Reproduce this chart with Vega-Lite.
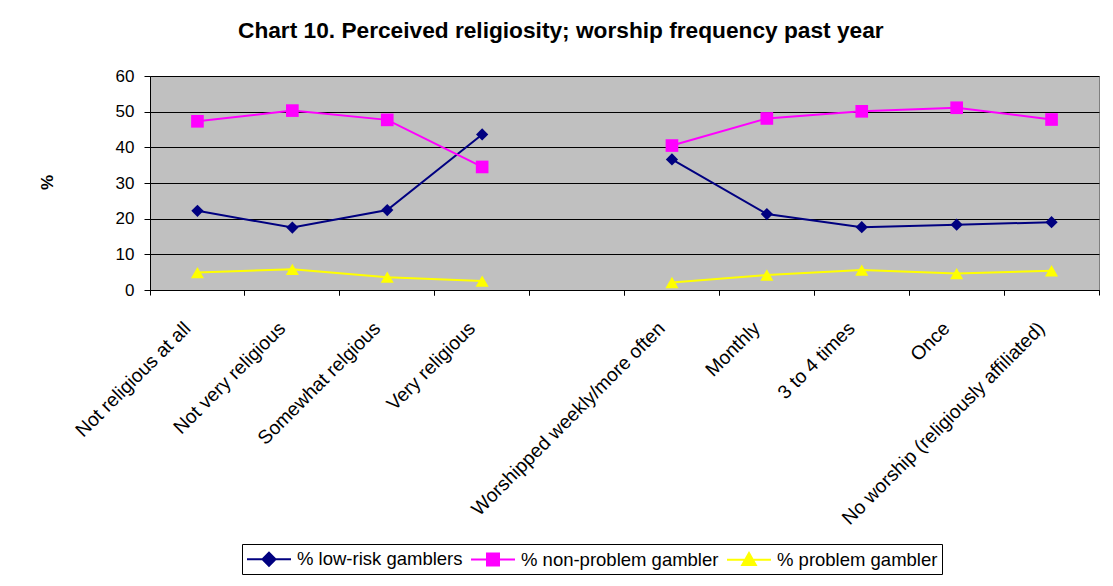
{
  "$schema": "https://vega.github.io/schema/vega-lite/v6.json",
  "width": 949,
  "height": 214,
  "autosize": {"type": "none"},
  "padding": {"left": 150, "top": 76, "right": 14, "bottom": 296},
  "background": "white",
  "title": {
    "text": "Chart 10. Perceived religiosity; worship frequency past year",
    "anchor": "start",
    "frame": "group",
    "dx": 88,
    "offset": 6,
    "baseline": "alphabetic",
    "font": "Liberation Sans",
    "fontSize": 22.7,
    "fontWeight": "bold",
    "color": "black"
  },
  "data": {
    "values": [
      {"cat": "Not religious at all", "series": "% low-risk gamblers", "value": 22.2, "group": "A"},
      {"cat": "Not very religious", "series": "% low-risk gamblers", "value": 17.5, "group": "A"},
      {"cat": "Somewhat relgious", "series": "% low-risk gamblers", "value": 22.4, "group": "A"},
      {"cat": "Very religious", "series": "% low-risk gamblers", "value": 43.6, "group": "A"},
      {"cat": "Worshipped weekly/more often", "series": "% low-risk gamblers", "value": 36.6, "group": "B"},
      {"cat": "Monthly", "series": "% low-risk gamblers", "value": 21.3, "group": "B"},
      {"cat": "3 to 4 times", "series": "% low-risk gamblers", "value": 17.6, "group": "B"},
      {"cat": "Once", "series": "% low-risk gamblers", "value": 18.3, "group": "B"},
      {"cat": "No worship (religiously affiliated)", "series": "% low-risk gamblers", "value": 19.0, "group": "B"},
      {"cat": "Not religious at all", "series": "% non-problem gambler", "value": 47.3, "group": "A"},
      {"cat": "Not very religious", "series": "% non-problem gambler", "value": 50.3, "group": "A"},
      {"cat": "Somewhat relgious", "series": "% non-problem gambler", "value": 47.7, "group": "A"},
      {"cat": "Very religious", "series": "% non-problem gambler", "value": 34.5, "group": "A"},
      {"cat": "Worshipped weekly/more often", "series": "% non-problem gambler", "value": 40.5, "group": "B"},
      {"cat": "Monthly", "series": "% non-problem gambler", "value": 48.1, "group": "B"},
      {"cat": "3 to 4 times", "series": "% non-problem gambler", "value": 50.1, "group": "B"},
      {"cat": "Once", "series": "% non-problem gambler", "value": 51.1, "group": "B"},
      {"cat": "No worship (religiously affiliated)", "series": "% non-problem gambler", "value": 47.8, "group": "B"},
      {"cat": "Not religious at all", "series": "% problem gambler", "value": 4.9, "group": "A"},
      {"cat": "Not very religious", "series": "% problem gambler", "value": 5.8, "group": "A"},
      {"cat": "Somewhat relgious", "series": "% problem gambler", "value": 3.6, "group": "A"},
      {"cat": "Very religious", "series": "% problem gambler", "value": 2.5, "group": "A"},
      {"cat": "Worshipped weekly/more often", "series": "% problem gambler", "value": 2.1, "group": "B"},
      {"cat": "Monthly", "series": "% problem gambler", "value": 4.2, "group": "B"},
      {"cat": "3 to 4 times", "series": "% problem gambler", "value": 5.6, "group": "B"},
      {"cat": "Once", "series": "% problem gambler", "value": 4.6, "group": "B"},
      {"cat": "No worship (religiously affiliated)", "series": "% problem gambler", "value": 5.4, "group": "B"}
    ]
  },
  "encoding": {
    "y": {
      "field": "value",
      "type": "quantitative",
      "scale": {"domain": [0, 60], "nice": false},
      "axis": {
        "title": "%",
        "titleFont": "Liberation Sans",
        "titleFontSize": 17,
        "titleFontWeight": "bold",
        "titleColor": "black",
        "titleAngle": -90,
        "titleX": -103,
        "titleY": 106,
        "titleAlign": "center",
        "titleBaseline": "middle",
        "values": [0, 10, 20, 30, 40, 50, 60],
        "labelFont": "Liberation Sans",
        "labelFontSize": 17,
        "labelColor": "black",
        "labelPadding": 10,
        "tickSize": 6,
        "tickColor": "black",
        "domainColor": "black",
        "grid": true,
        "gridColor": "black",
        "gridWidth": 1
      }
    },
    "color": {
      "field": "series",
      "type": "nominal",
      "scale": {
        "domain": ["% low-risk gamblers", "% non-problem gambler", "% problem gambler"],
        "range": ["#000080", "#FF00FF", "#FFFF00"]
      },
      "legend": {
        "title": null,
        "orient": "none",
        "legendX": 92,
        "legendY": 468,
        "direction": "horizontal",
        "strokeColor": "black",
        "fillColor": "white",
        "padding": 4,
        "symbolSize": 400,
        "symbolOffset": 12,
        "symbolStrokeWidth": 2,
        "labelFont": "Liberation Sans",
        "labelFontSize": 18.5,
        "labelColor": "black",
        "labelOffset": 17,
        "labelLimit": 400,
        "columnPadding": 4,
        "encode": {
          "symbols": {
            "update": {
              "shape": {"signal": "datum.value === '% low-risk gamblers' ? 'M-2.2,0L2.2,0M0,-0.65L0.65,0L0,0.65L-0.65,0Z' : datum.value === '% non-problem gambler' ? 'M-2.2,0L2.2,0M-0.6,-0.6L0.6,-0.6L0.6,0.6L-0.6,0.6Z' : 'M-2.2,0L2.2,0M0,-0.68L0.68,0.52L-0.68,0.52Z'"},
              "fill": {"signal": "scale('color', datum.value)"},
              "stroke": {"signal": "scale('color', datum.value)"},
              "strokeWidth": {"value": 2},
              "opacity": {"value": 1}
            }
          }
        }
      }
    }
  },
  "layer": [
    {
      "mark": {"type": "line", "strokeWidth": 2},
      "encoding": {
        "x": {
          "field": "cat",
          "type": "nominal",
          "sort": null,
          "scale": {
            "type": "band",
            "paddingInner": 0,
            "paddingOuter": 0,
            "domain": ["Not religious at all", "Not very religious", "Somewhat relgious", "Very religious", " ", "Worshipped weekly/more often", "Monthly", "3 to 4 times", "Once", "No worship (religiously affiliated)"]
          },
          "axis": {
            "orient": "bottom",
            "title": null,
            "labelAngle": -45,
            "labelAlign": "right",
            "labelBaseline": "middle",
            "labelPadding": 30,
            "labelOffset": -10,
            "labelOverlap": false,
            "labelLimit": 500,
            "labelFont": "Liberation Sans",
            "labelFontSize": 19.3,
            "labelColor": "black",
            "ticks": true,
            "tickSize": 5,
            "tickOpacity": 0,
            "domain": false,
            "grid": false
          }
        },
        "detail": {"field": "group", "type": "nominal"}
      }
    },
    {
      "transform": [{"filter": "datum.series === '% low-risk gamblers'"}],
      "mark": {"type": "point", "shape": "diamond", "filled": true, "opacity": 1, "size": 150},
      "encoding": {
        "x": {
          "field": "cat",
          "type": "nominal",
          "sort": null,
          "scale": {
            "type": "band",
            "paddingInner": 0,
            "paddingOuter": 0,
            "domain": ["Not religious at all", "Not very religious", "Somewhat relgious", "Very religious", " ", "Worshipped weekly/more often", "Monthly", "3 to 4 times", "Once", "No worship (religiously affiliated)"]
          },
          "axis": {
            "orient": "bottom",
            "title": null,
            "labels": false,
            "bandPosition": 0,
            "tickSize": 5,
            "tickColor": "black",
            "domain": true,
            "domainColor": "black",
            "grid": false
          }
        }
      }
    },
    {
      "transform": [{"filter": "datum.series === '% non-problem gambler'"}],
      "mark": {"type": "point", "shape": "square", "filled": true, "opacity": 1, "size": 160},
      "encoding": {
        "x": {
          "field": "cat",
          "type": "nominal",
          "sort": null,
          "scale": {
            "type": "band",
            "paddingInner": 0,
            "paddingOuter": 0,
            "domain": ["Not religious at all", "Not very religious", "Somewhat relgious", "Very religious", " ", "Worshipped weekly/more often", "Monthly", "3 to 4 times", "Once", "No worship (religiously affiliated)"]
          },
          "axis": {
            "orient": "bottom",
            "title": null,
            "labels": false,
            "bandPosition": 1,
            "tickSize": 5,
            "tickColor": "black",
            "domain": false,
            "grid": false
          }
        }
      }
    },
    {
      "transform": [{"filter": "datum.series === '% problem gambler'"}],
      "mark": {"type": "point", "shape": "triangle-up", "filled": true, "opacity": 1, "size": 170},
      "encoding": {
        "x": {
          "field": "cat",
          "type": "nominal",
          "sort": null,
          "scale": {
            "type": "band",
            "paddingInner": 0,
            "paddingOuter": 0,
            "domain": ["Not religious at all", "Not very religious", "Somewhat relgious", "Very religious", " ", "Worshipped weekly/more often", "Monthly", "3 to 4 times", "Once", "No worship (religiously affiliated)"]
          },
          "axis": null
        }
      }
    }
  ],
  "resolve": {"axis": {"x": "independent"}},
  "config": {
    "view": {"fill": "#C0C0C0", "stroke": "#808080", "strokeWidth": 1},
    "font": "Liberation Sans"
  }
}
